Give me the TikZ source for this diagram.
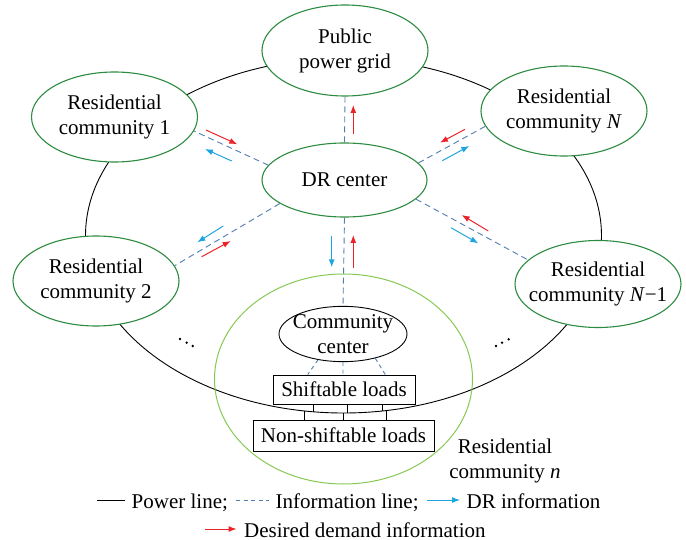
\documentclass[tikz,border=0pt]{standalone}
\usepackage{fontspec}
\setmainfont{Liberation Serif}
\usetikzlibrary{shapes.geometric,arrows.meta,calc}
\definecolor{grn}{RGB}{45,140,65}
\definecolor{lgrn}{RGB}{135,200,85}
\definecolor{dashblue}{RGB}{80,125,175}
\definecolor{arrblue}{RGB}{30,165,225}
\definecolor{arrred}{RGB}{235,35,40}
\tikzset{
  gell/.style={ellipse, draw=grn, line width=1.1pt, fill=white, inner xsep=-40pt, inner ysep=0pt,
    minimum width=166pt, minimum height=90pt, align=center},
  info/.style={draw=dashblue, line width=0.9pt, dash pattern=on 6pt off 4pt},
  power/.style={draw=black, line width=0.9pt},
  darr/.style={draw=arrblue, line width=1pt, -{Latex[length=8pt,width=6pt]}},
  rarr/.style={draw=arrred, line width=1pt, -{Latex[length=8pt,width=6pt]}},
  loadbox/.style={rectangle, draw=black, line width=0.9pt, fill=white, inner sep=0pt},
  txt/.style={inner sep=0pt, align=center}
}
\begin{document}
\begin{tikzpicture}[x=1pt,y=-1pt,font=\fontsize{21}{25}\selectfont]
\useasboundingbox (0,0) rectangle (686,540);
% power ring
\draw[power] (343.5,235.7) ellipse [x radius=258pt, y radius=177.3pt];
% community n outer ellipse
\draw[lgrn, line width=1pt] (343.5,379) ellipse [x radius=129pt, y radius=105pt];
% nodes
\node[gell, minimum height=91pt] (pg) at (345,50.5) {Public\\power grid};
\node[gell] (c1) at (114.5,117) {Residential\\community 1};
\node[gell] (cN) at (564,111) {Residential\\community \textit{N}};
\node[gell] (c2) at (96,281) {Residential\\community 2};
\node[gell, minimum height=87pt] (cN1) at (598,284) {Residential\\community \textit{N}−1};
\node[gell, minimum width=165pt, minimum height=74pt] (dr) at (344.5,180) {DR center};
\node[ellipse, draw=black, line width=0.9pt, fill=white, inner xsep=-30pt, inner ysep=0pt,
  minimum width=128pt, minimum height=52pt, align=center] (cc) at (343,334) {Community\\center};
\node[loadbox, minimum width=142pt, minimum height=29pt] (sl) at (344,389.5) {Shiftable loads};
\node[loadbox, minimum width=181pt, minimum height=31pt] (ns) at (343.5,435.5) {Non-shiftable loads};
\node[txt] (lbn) at (505,460.6) {Residential\\community \textit{n}};
% information lines
\draw[info] (dr.north) -- (pg.south);
\draw[info] (dr.south) -- (cc.north);
\draw[info] (dr.169.6) -- (c1.-10.8);
\draw[info] (dr.13.8) -- (cN.191.9);
\draw[info] (dr.200.3) -- (c2.11.5);
\draw[info] (dr.-15.4) -- (cN1.161.8);
\draw[info, dash pattern=on 4pt off 3.5pt] (cc.226.6) -- ($(sl.north west)!0.246!(sl.north east)$);
\draw[info, dash pattern=on 4pt off 3.5pt] (cc.south) -- ($(sl.north west)!0.493!(sl.north east)$);
\draw[info, dash pattern=on 4pt off 3.5pt] (cc.-37.5) -- ($(sl.north west)!0.789!(sl.north east)$);
% load connections to power ring
\coordinate (r1) at (313,411.8);
\coordinate (r2) at (347,413.0);
\coordinate (r3) at (382,411.0);
\coordinate (r4) at (304,410.9);
\coordinate (r5) at (343,413.0);
\coordinate (r6) at (386,410.6);
\draw[power] (sl.south -| r1) -- (r1);
\draw[power] (sl.south -| r2) -- (r2);
\draw[power] (sl.south -| r3) -- (r3);
\draw[power] (r4) -- (ns.north -| r4);
\draw[power] (r5) -- (ns.north -| r5);
\draw[power] (r6) -- (ns.north -| r6);
% flow arrows
\draw[rarr] (206,130) -- (237.3,144.3);
\draw[darr] (231.7,161) -- (205,149);
\draw[rarr] (353.3,134.3) -- (353.3,105);
\draw[rarr] (465,129.3) -- (440,142.7);
\draw[darr] (442.3,160.7) -- (469.3,146);
\draw[darr] (223.3,226) -- (197.3,242.3);
\draw[rarr] (201.7,256.7) -- (230.7,241);
\draw[darr] (331.7,236) -- (331.7,267.3);
\draw[rarr] (353.3,267.7) -- (353.3,235);
\draw[rarr] (488.3,231) -- (461.7,215);
\draw[darr] (451,227.7) -- (478.3,243.3);
% dots
\fill (180,339) circle (1.3pt) (186.7,342.7) circle (1.3pt) (192.7,346) circle (1.3pt);
\fill (496,346) circle (1.3pt) (502,342.7) circle (1.3pt) (508.7,339.3) circle (1.3pt);
% legend
\node[txt, anchor=base west] (lg1) at (131.5,508) {Power line;};
\node[txt, anchor=base west] (lg2) at (275.5,508) {Information line;};
\node[txt, anchor=base west] (lg3) at (466.5,508) {DR information};
\node[txt, anchor=base west] (lg4) at (244,537) {Desired demand information};
\coordinate (la) at (97,500);
\coordinate (lb) at (236,500);
\coordinate (lc) at (426.5,500);
\coordinate (ld) at (205,529);
\draw[power] (la) -- ++(28,0);
\draw[info, dash pattern=on 4pt off 3.5pt] (lb) -- ++(33,0);
\draw[darr] (lc) -- ++(33.5,0);
\draw[rarr] (ld) -- ++(31.5,0);
\end{tikzpicture}
\end{document}
